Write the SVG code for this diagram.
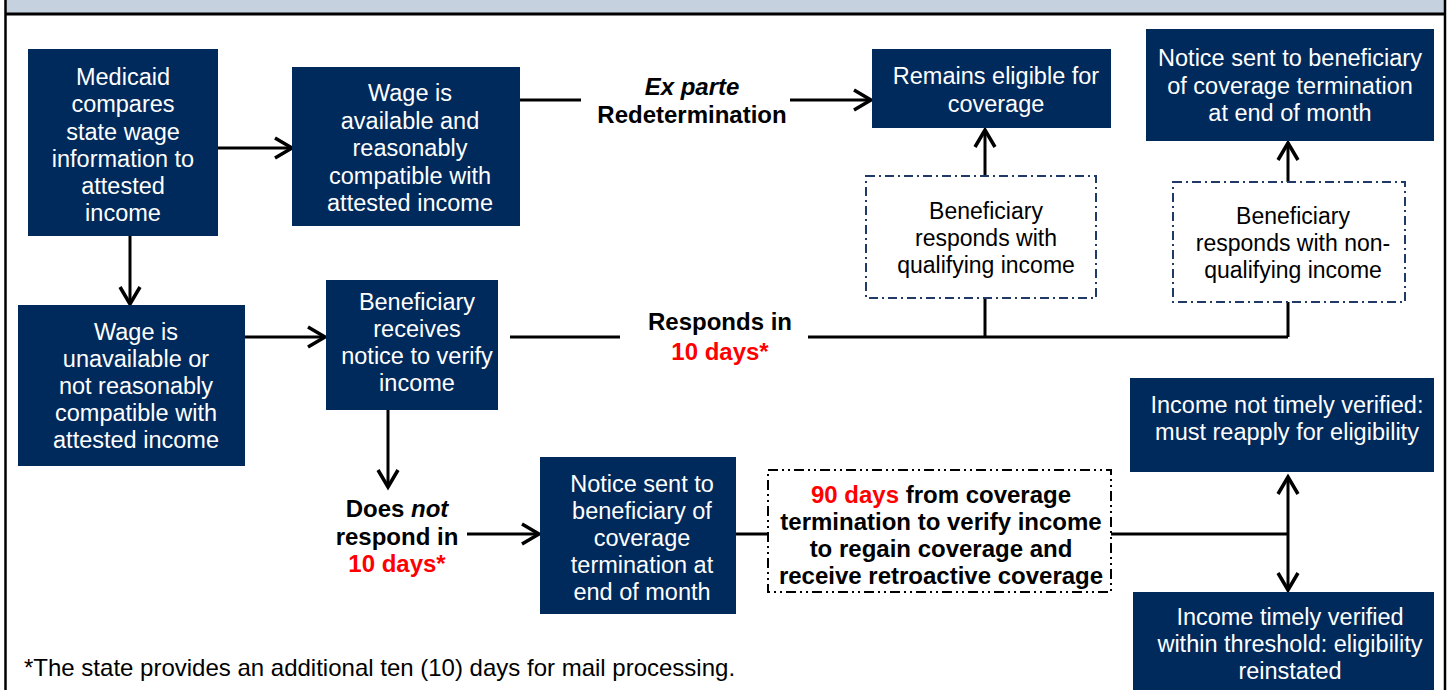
<svg xmlns="http://www.w3.org/2000/svg" width="1448" height="690" viewBox="0 0 1448 690">
<style>
.node rect{fill:#002A5C;}
.nt{font-family:"Liberation Sans",Arial,sans-serif;font-size:23.5px;fill:#fff;text-anchor:middle;}
.dt{font-family:"Liberation Sans",Arial,sans-serif;font-size:23px;fill:#000;text-anchor:middle;}
.lb{font-family:"Liberation Sans",Arial,sans-serif;font-size:24px;font-weight:bold;fill:#000;text-anchor:middle;}
.red{fill:#FF0000;}
.dash rect{fill:#fff;stroke:#1F3A66;stroke-width:2;stroke-dasharray:9 4 2 4;}
.dash2 rect{fill:#fff;stroke:#000;stroke-width:2;stroke-dasharray:10 4 2 4 2 4;}
.conn line,.conn path{stroke:#000;stroke-width:3;fill:none;}
</style>
<defs>
<marker id="ah" viewBox="-20 -12 24 24" refX="0" refY="0" markerWidth="24" markerHeight="24" markerUnits="userSpaceOnUse" orient="auto">
<path d="M-17,-10 L0,0 L-17,10" fill="none" stroke="#000" stroke-width="3.5"/>
</marker>
</defs>
<rect x="0" y="0" width="1448" height="690" fill="#fff"/>
<g id="frame">
<rect x="5" y="0" width="1441" height="13" fill="#C6D1DF"/>
<line x1="5" y1="14" x2="1446" y2="14" stroke="#000" stroke-width="3"/>
<line x1="5.5" y1="0" x2="5.5" y2="690" stroke="#000" stroke-width="2.5"/>
<line x1="1445" y1="0" x2="1445" y2="690" stroke="#000" stroke-width="2.5"/>
</g>

<g class="conn" id="connectors">
<line x1="218" y1="148" x2="292" y2="148" marker-end="url(#ah)"/>
<line x1="130" y1="236" x2="130" y2="304" marker-end="url(#ah)"/>
<line x1="520" y1="100" x2="581" y2="100"/>
<line x1="790" y1="100" x2="871" y2="100" marker-end="url(#ah)"/>
<line x1="245" y1="337" x2="325" y2="337" marker-end="url(#ah)"/>
<line x1="510" y1="337" x2="620" y2="337"/>
<line x1="808" y1="337" x2="1288" y2="337"/>
<line x1="985" y1="337" x2="985" y2="298"/>
<line x1="985" y1="176" x2="985" y2="130" marker-end="url(#ah)"/>
<line x1="1288" y1="337" x2="1288" y2="302"/>
<line x1="1288" y1="182" x2="1288" y2="143" marker-end="url(#ah)"/>
<line x1="388" y1="410" x2="388" y2="487" marker-end="url(#ah)"/>
<line x1="467" y1="534" x2="539" y2="534" marker-end="url(#ah)"/>
<line x1="736" y1="534" x2="768" y2="534"/>
<line x1="1111" y1="534" x2="1288" y2="534"/>
<line x1="1288" y1="534" x2="1288" y2="477" marker-end="url(#ah)"/>
<line x1="1288" y1="534" x2="1288" y2="590" marker-end="url(#ah)"/>
</g>

<g id="n-medicaid" class="node">
<rect x="28" y="49" width="190" height="187"/>
<text class="nt"><tspan x="123" y="85">Medicaid</tspan><tspan x="123" y="112">compares</tspan><tspan x="123" y="139.5">state wage</tspan><tspan x="123" y="166.5">information to</tspan><tspan x="123" y="194">attested</tspan><tspan x="123" y="221">income</tspan></text>
</g>
<g id="n-available" class="node">
<rect x="292" y="67" width="228" height="159"/>
<text class="nt"><tspan x="410" y="101">Wage is</tspan><tspan x="410" y="128.5">available and</tspan><tspan x="410" y="156">reasonably</tspan><tspan x="410" y="183.5">compatible with</tspan><tspan x="410" y="211">attested income</tspan></text>
</g>
<g id="l-exparte">
<text class="lb"><tspan x="692" y="95" font-style="italic">Ex parte</tspan><tspan x="692" y="123">Redetermination</tspan></text>
</g>
<g id="n-remains" class="node">
<rect x="872" y="49" width="239" height="79"/>
<text class="nt"><tspan x="996" y="84">Remains eligible for</tspan><tspan x="996" y="111.5">coverage</tspan></text>
</g>
<g id="n-notice-top" class="node">
<rect x="1146" y="29" width="288" height="112"/>
<text class="nt"><tspan x="1290" y="66">Notice sent to beneficiary</tspan><tspan x="1290" y="93.5">of coverage termination</tspan><tspan x="1290" y="121">at end of month</tspan></text>
</g>
<g id="n-qualifying" class="dash">
<rect x="866" y="176" width="230" height="122"/>
<text class="dt"><tspan x="986" y="219">Beneficiary</tspan><tspan x="986" y="246">responds with</tspan><tspan x="986" y="273">qualifying income</tspan></text>
</g>
<g id="n-nonqualifying" class="dash">
<rect x="1173" y="182" width="232" height="120"/>
<text class="dt"><tspan x="1293" y="224">Beneficiary</tspan><tspan x="1293" y="251">responds with non-</tspan><tspan x="1293" y="278">qualifying income</tspan></text>
</g>
<g id="n-unavailable" class="node">
<rect x="18" y="305" width="227" height="161"/>
<text class="nt"><tspan x="136" y="340">Wage is</tspan><tspan x="136" y="367">unavailable or</tspan><tspan x="136" y="394">not reasonably</tspan><tspan x="136" y="421">compatible with</tspan><tspan x="136" y="448">attested income</tspan></text>
</g>
<g id="n-receives" class="node">
<rect x="326" y="280" width="172" height="130"/>
<text class="nt"><tspan x="417" y="310">Beneficiary</tspan><tspan x="417" y="337">receives</tspan><tspan x="417" y="364">notice to verify</tspan><tspan x="417" y="391">income</tspan></text>
</g>
<g id="l-responds">
<text class="lb"><tspan x="720" y="330">Responds in</tspan><tspan x="720" y="360" class="red">10 days*</tspan></text>
</g>
<g id="l-doesnot">
<text class="lb"><tspan x="397" y="517">Does <tspan font-style="italic">not</tspan></tspan><tspan x="397" y="545">respond in</tspan><tspan x="397" y="572" class="red">10 days*</tspan></text>
</g>
<g id="n-notice-bottom" class="node">
<rect x="540" y="457" width="196" height="157"/>
<text class="nt"><tspan x="642" y="492">Notice sent to</tspan><tspan x="642" y="519">beneficiary of</tspan><tspan x="642" y="546">coverage</tspan><tspan x="642" y="573">termination at</tspan><tspan x="642" y="600">end of month</tspan></text>
</g>
<g id="n-90days" class="dash2">
<rect x="768" y="470" width="343" height="122"/>
<text class="lb"><tspan x="941" y="503"><tspan class="red">90 days</tspan> from coverage</tspan><tspan x="941" y="530">termination to verify income</tspan><tspan x="941" y="557">to regain coverage and</tspan><tspan x="941" y="584">receive retroactive coverage</tspan></text>
</g>
<g id="n-not-timely" class="node">
<rect x="1130" y="378" width="304" height="94"/>
<text class="nt"><tspan x="1287" y="413">Income not timely verified:</tspan><tspan x="1287" y="440">must reapply for eligibility</tspan></text>
</g>
<g id="n-timely" class="node">
<rect x="1133" y="592" width="301" height="100"/>
<text class="nt"><tspan x="1290" y="625">Income timely verified</tspan><tspan x="1290" y="652">within threshold: eligibility</tspan><tspan x="1290" y="679">reinstated</tspan></text>
</g>
<g id="footnote">
<text font-family="'Liberation Sans',Arial,sans-serif" font-size="24" fill="#000" x="24" y="676">*The state provides an additional ten (10) days for mail processing.</text>
</g>
</svg>
